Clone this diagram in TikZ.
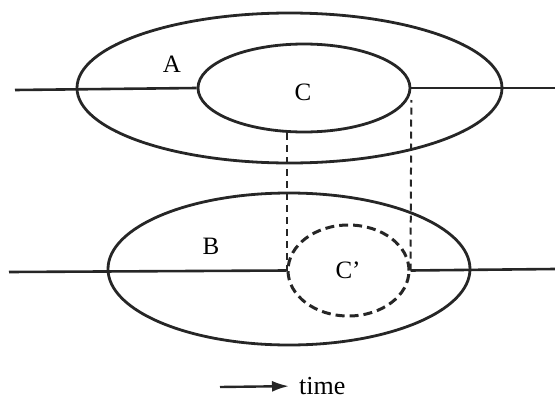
\documentclass[tikz,border=0pt]{standalone}
\usepackage{fontspec}
\setmainfont{Liberation Serif}
\usetikzlibrary{arrows.meta, shapes.geometric}
\tikzset{
  region/.style = {ellipse, draw=black!85, line width=2.8pt, inner sep=0pt},
  ghost/.style  = {region, line width=3pt, dash pattern=on 9pt off 5pt},
  axis/.style   = {draw=black!85, line width=2.6pt},
  proj/.style   = {draw=black!85, line width=2pt, dash pattern=on 7pt off 5pt},
  lab/.style    = {font=\fontsize{25}{29}\selectfont, inner sep=0pt},
  tarrow/.style = {-{Latex[length=17pt, width=11pt]}, draw=black!85, line width=2.4pt},
}

\begin{document}
\begin{tikzpicture}[x=1pt, y=-1pt]
  \useasboundingbox (0,0) rectangle (555,399);

  \node[region, minimum width=425pt, minimum height=150pt] (A) at (289.5,88) {};
  \node[region, minimum width=212pt, minimum height=88pt] (C) at (304,88) {};
  \node[region, minimum width=362pt, minimum height=152pt] (B) at (289,269) {};
  \node[ghost, minimum width=121pt, minimum height=91pt] (Cp) at (348.5,270.5) {};

  \node[lab] (la) at (172,64) {A};
  \node[lab] (lc) at (303,92) {C};
  \node[lab] (lb) at (211,246) {B};
  \node[lab] (lcp) at (348,270) {C'};

  \coordinate (top-in) at (15,90);
  \coordinate (top-out) at (555,88);
  \coordinate (bot-in) at (9,272);
  \coordinate (bot-out) at (555,269);
  \draw[axis] (top-in) -- (C.west);
  \draw[axis] (C.east) -- (top-out);
  \draw[axis] (bot-in) -- (Cp.west);
  \draw[axis] (Cp.east) -- (bot-out);

  \draw[proj] (C.south -| Cp.west) -- (Cp.west);
  \draw[proj, shorten >=12pt] (Cp.east) -- (C.east);

  \coordinate (t0) at (220,387);
  \node[lab, anchor=west, font=\fontsize{26}{30}\selectfont] (time) at (299,386) {time};
  \draw[tarrow, shorten >=10pt] (t0) -- (time.west);
\end{tikzpicture}
\end{document}
